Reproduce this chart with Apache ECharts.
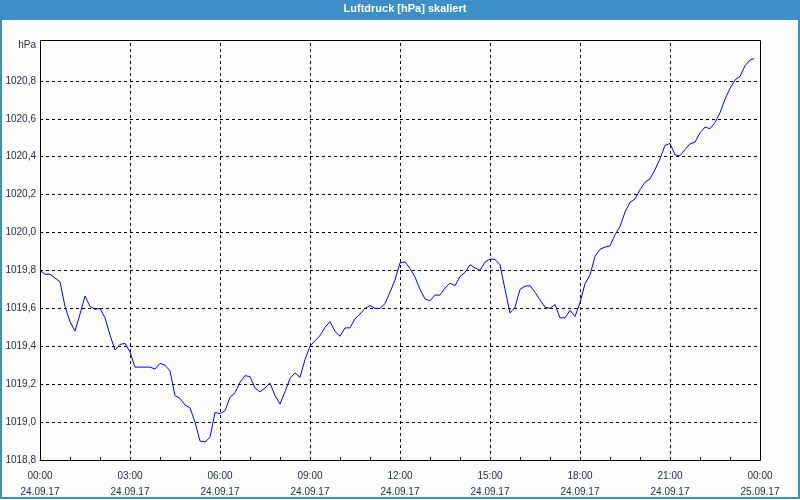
<!DOCTYPE html>
<html>
<head>
<meta charset="utf-8">
<script src="https://cdn.jsdelivr.net/npm/echarts@6/dist/echarts.min.js"></script>
<style>
html,body{margin:0;padding:0;background:#fcfdfc;}
#chart{width:800px;height:500px;}
</style>
</head>
<body>
<div id="chart"></div>
<script>
const titleText = 'Luftdruck [hPa] skaliert';
const unitText = 'hPa';
const tickLabels = ['00:00\n24.09.17','03:00\n24.09.17','06:00\n24.09.17','09:00\n24.09.17','12:00\n24.09.17','15:00\n24.09.17','18:00\n24.09.17','21:00\n24.09.17','00:00\n25.09.17'];
// minutes since 24.09.17 00:00
const minutes = [0,10,20,30,40,50,60,70,80,90,100,110,120,130,140,150,160,170,180,190,200,210,220,230,240,250,260,270,280,290,300,310,320,330,340,350,360,370,380,390,400,410,420,430,440,450,460,470,480,490,500,510,520,530,540,550,560,570,580,590,600,610,620,630,640,650,660,670,680,690,700,710,720,730,740,750,760,770,780,790,800,810,820,830,840,850,860,870,880,890,900,910,920,930,940,950,960,970,980,990,1000,1010,1020,1030,1040,1050,1060,1070,1080,1090,1100,1110,1120,1130,1140,1150,1160,1170,1180,1190,1200,1210,1220,1230,1240,1250,1260,1270,1280,1290,1300,1310,1320,1330,1340,1350,1360,1370,1380,1390,1400,1410,1420,1428];
const pressure = [1019.80,1019.78,1019.78,1019.76,1019.74,1019.61,1019.53,1019.48,1019.57,1019.665,1019.61,1019.595,1019.60,1019.55,1019.46,1019.38,1019.41,1019.415,1019.37,1019.29,1019.29,1019.29,1019.29,1019.28,1019.31,1019.30,1019.27,1019.14,1019.125,1019.09,1019.075,1019.00,1018.90,1018.895,1018.92,1019.05,1019.045,1019.06,1019.13,1019.155,1019.21,1019.245,1019.24,1019.18,1019.16,1019.18,1019.205,1019.14,1019.095,1019.16,1019.23,1019.26,1019.236,1019.33,1019.40,1019.43,1019.456,1019.50,1019.53,1019.478,1019.453,1019.497,1019.497,1019.545,1019.57,1019.60,1019.615,1019.60,1019.60,1019.625,1019.685,1019.75,1019.84,1019.845,1019.81,1019.765,1019.70,1019.65,1019.64,1019.67,1019.67,1019.707,1019.733,1019.72,1019.768,1019.79,1019.83,1019.814,1019.80,1019.844,1019.86,1019.858,1019.83,1019.70,1019.576,1019.606,1019.70,1019.717,1019.72,1019.685,1019.645,1019.606,1019.60,1019.62,1019.55,1019.55,1019.59,1019.557,1019.63,1019.73,1019.777,1019.874,1019.912,1019.923,1019.93,1019.988,1020.032,1020.108,1020.16,1020.177,1020.226,1020.265,1020.283,1020.332,1020.389,1020.46,1020.47,1020.41,1020.405,1020.438,1020.468,1020.477,1020.526,1020.556,1020.548,1020.58,1020.632,1020.703,1020.76,1020.805,1020.823,1020.88,1020.91,1020.918];

const data = minutes.map((m, i) => [m, pressure[i]]);
const labelColor = '#1e2a44';
const font = 'Liberation Sans';

const chart = echarts.init(document.getElementById('chart'), null, {renderer: 'canvas'});
chart.setOption({
  backgroundColor: '#fcfdfc',
  animation: false,
  grid: {left: 40, right: 40, top: 43, bottom: 40, containLabel: false},
  xAxis: {
    type: 'value', min: 0, max: 1440, interval: 180,
    axisLine: {show: true, lineStyle: {color: '#000', width: 1}},
    axisTick: {show: true, inside: true, length: 3, lineStyle: {color: '#000'}},
    minorTick: {show: true, splitNumber: 3, length: 3, lineStyle: {color: '#000'}},
    splitLine: {show: true, showMinLine: false, showMaxLine: false, lineStyle: {color: '#000', type: [3, 3], width: 1}},
    axisLabel: {
      color: labelColor, fontFamily: font, fontSize: 10, lineHeight: 16, margin: 8,
      formatter: v => tickLabels[Math.round(v / 180)] || ''
    }
  },
  yAxis: {
    type: 'value', min: 1018.8, max: 1021.0, interval: 0.2,
    axisLine: {show: true, lineStyle: {color: '#000', width: 1}},
    axisTick: {show: false},
    splitLine: {show: true, showMinLine: false, showMaxLine: false, lineStyle: {color: '#000', type: [3, 3], width: 1}},
    axisLabel: {
      color: labelColor, fontFamily: font, fontSize: 10, margin: 4,
      formatter: v => v > 1020.95 ? '' : v.toFixed(1).replace('.', ',')
    }
  },
  series: [{
    type: 'line', data: data, showSymbol: false, symbol: 'none',
    lineStyle: {color: '#0000ff', width: 1}, z: 3
  }],
  graphic: [
    {type: 'rect', silent: true, z: 100, shape: {x: 0, y: 0, width: 800, height: 20}, style: {fill: '#3d8fc7'}},
    {type: 'rect', silent: true, z: 100, shape: {x: 1, y: 1, width: 798, height: 497}, style: {fill: 'none', stroke: '#3d8fc7', lineWidth: 2}},
    {type: 'text', silent: true, z: 101, x: 405, y: 9, style: {text: titleText, fill: '#ffffff', font: 'bold 11px Liberation Sans', textAlign: 'center', textVerticalAlign: 'middle'}},
    {type: 'rect', silent: true, z: 50, shape: {x: 40.5, y: 40.5, width: 720, height: 420}, style: {fill: 'none', stroke: '#000', lineWidth: 1}},
    {type: 'text', silent: true, z: 50, x: 36, y: 45, style: {text: unitText, fill: labelColor, font: '10px Liberation Sans', textAlign: 'right', textVerticalAlign: 'middle'}}
  ]
});
</script>
</body>
</html>
